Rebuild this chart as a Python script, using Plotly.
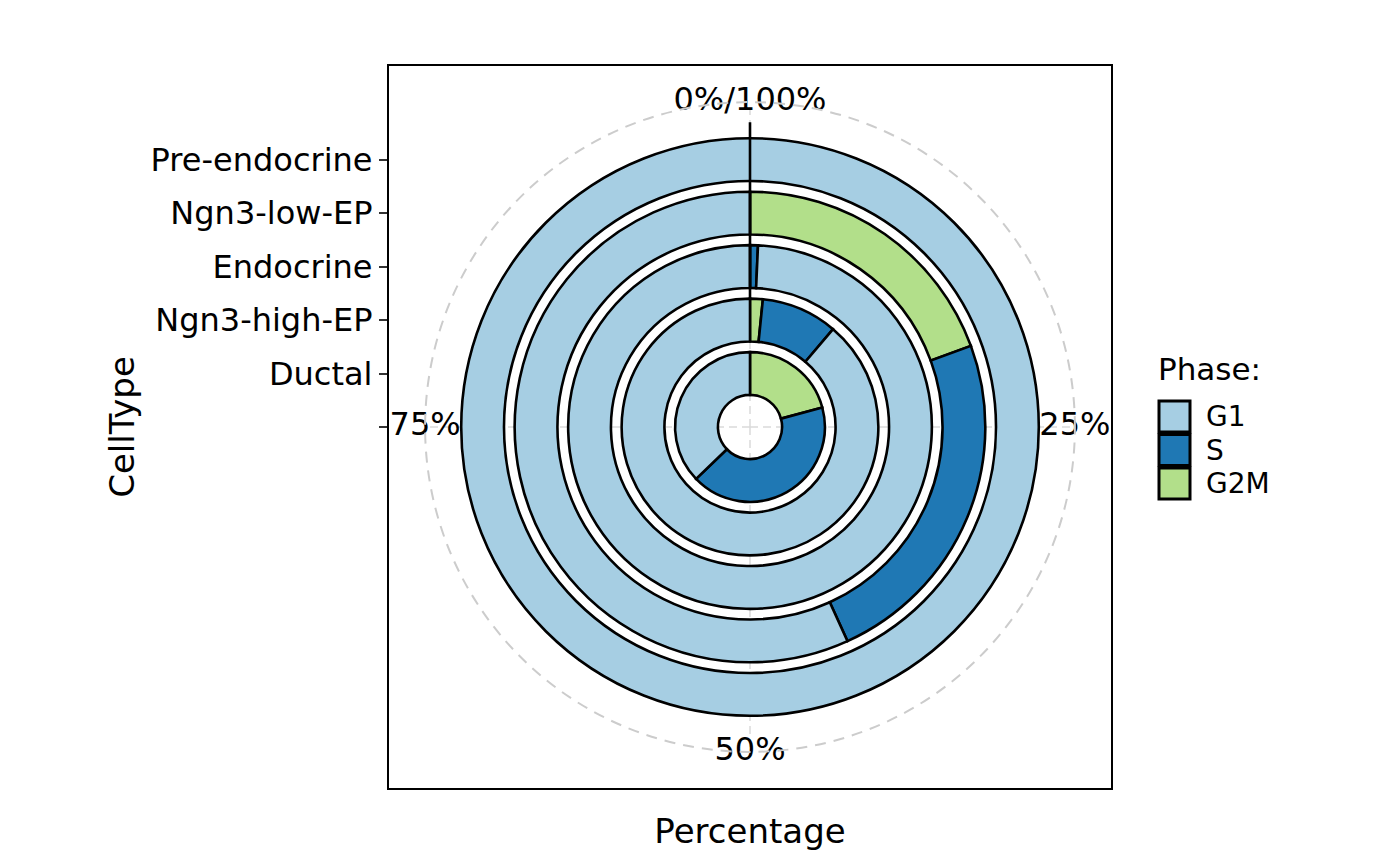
import numpy as np
import plotly.graph_objects as go

# ---------------- data ----------------
cell_types = ["Ductal", "Ngn3-high-EP", "Endocrine", "Ngn3-low-EP", "Pre-endocrine"]
phases = ["G1", "S", "G2M"]
pct_g1 = [37.2, 88.8, 99.3, 56.8, 100.0]
pct_s = [42.0, 9.6, 0.7, 23.8, 0.0]
pct_g2m = [20.8, 1.6, 0.0, 19.4, 0.0]
phase_colors = {"G1": "#A6CEE3", "S": "#1F78B4", "G2M": "#B2DF8A"}
theta_tick_vals = [0, 25, 50, 75]
theta_tick_text = ["0%/100%", "25%", "50%", "75%"]
radial_tick_text = [""] + cell_types

# ---------------- geometry constants ----------------
BAR_WIDTH = 0.8
R_GRID = 6.075     # outer (dashed) circle, in radial units
R_MAX = 6.75       # half of the panel in radial units
FONT = "DejaVu Sans"

OFF = 8            # page offset of the figure (body margin)
W, H = 1400, 866
ML, MT = 381, 58
PW = PH = 722
MR = W - ML - PW
MB = H - MT - PH


def px_x(px):
    return (px - OFF - ML) / PW


def px_y(py):
    return (H - MB - (py - OFF)) / PH


fig = go.Figure()

# theta grid lines (cartesian layer, beneath the polar bars)
for t in theta_tick_vals:
    a = np.deg2rad(t * 3.6)
    fig.add_trace(go.Scatter(
        x=[0, R_GRID * np.sin(a)], y=[0, R_GRID * np.cos(a)],
        mode="lines", line=dict(color="#DADADA", width=1.5, dash="8px,5px"),
        showlegend=False, hoverinfo="skip"))

# theta labels
ang = np.deg2rad(np.array(theta_tick_vals) * 3.6)
fig.add_trace(go.Scatter(
    x=R_GRID * np.sin(ang), y=R_GRID * np.cos(ang),
    mode="text", text=theta_tick_text, textposition="middle center",
    textfont=dict(family=FONT, size=32, color="#000000"),
    showlegend=False, hoverinfo="skip"))

# stacked ring segments, clockwise from top: G2M, S, G1
stack = [("G2M", pct_g2m), ("S", pct_s), ("G1", pct_g1)]
cum = [0.0] * len(cell_types)
for name, vals in stack:
    th, wd, base, rr, cts = [], [], [], [], []
    for i, v in enumerate(vals):
        if v > 0:
            th.append((cum[i] + v / 2) * 3.6)
            wd.append(v * 3.6)
            base.append(i + 1 - BAR_WIDTH / 2)
            rr.append(BAR_WIDTH)
            cts.append(cell_types[i])
    cum = [c + v for c, v in zip(cum, vals)]
    fig.add_trace(go.Barpolar(
        theta=th, width=wd, base=base, r=rr, name=name,
        marker=dict(color=phase_colors[name], line=dict(color="black", width=2.6)),
        customdata=cts, showlegend=False))

# black radial line at 0%
fig.add_trace(go.Scatterpolar(
    r=[2.4, 5.7], theta=[0, 0], mode="lines",
    line=dict(color="black", width=2.6), showlegend=False, hoverinfo="skip"))

# ---------------- manual legend ----------------
shapes = []
annotations = []
key_rows = [(401, 432), (434.5, 465.5), (468, 499)]
for (y0, y1), ph in zip(key_rows, phases):
    shapes.append(dict(type="rect", xref="paper", yref="paper",
                       x0=px_x(1159), x1=px_x(1190), y0=px_y(y1), y1=px_y(y0),
                       fillcolor=phase_colors[ph], line=dict(color="black", width=3)))
    annotations.append(dict(text=ph, xref="paper", yref="paper",
                            x=px_x(1204), y=px_y((y0 + y1) / 2),
                            xanchor="left", yanchor="middle", showarrow=False,
                            font=dict(family=FONT, size=28, color="black")))
annotations.append(dict(text="Phase:", xref="paper", yref="paper",
                        x=px_x(1156), y=px_y(369), xanchor="left", yanchor="middle",
                        showarrow=False, font=dict(family=FONT, size=31, color="black")))

fig.update_layout(
    width=W, height=H,
    margin=dict(l=ML, r=MR, t=MT, b=MB),
    paper_bgcolor="white", plot_bgcolor="white",
    font=dict(family=FONT, color="black"),
    showlegend=False,
    xaxis=dict(range=[-R_MAX, R_MAX], showgrid=False, zeroline=False,
               showticklabels=False, ticks="", showline=True, mirror=True,
               linecolor="black", linewidth=2.2,
               title=dict(text="Percentage", font=dict(size=34), standoff=30)),
    yaxis=dict(range=[-R_MAX, R_MAX], showgrid=False, zeroline=False,
               tickmode="array", tickvals=list(range(len(radial_tick_text))),
               ticktext=radial_tick_text, ticks="outside", ticklen=8, tickwidth=2.2,
               tickcolor="#333333", tickfont=dict(size=32, color="black"),
               showline=True, mirror=True, linecolor="black", linewidth=2.2,
               title=dict(text="CellType", font=dict(size=34), standoff=6)),
    polar=dict(
        domain=dict(x=[0, 1], y=[0, 1]),
        bgcolor="rgba(0,0,0,0)",
        barmode="overlay",
        radialaxis=dict(range=[0, R_MAX], showline=False, showticklabels=False,
                        ticks="", tickmode="array", tickvals=[R_GRID],
                        showgrid=True, gridcolor="#CCCCCC", griddash="11px,8px",
                        gridwidth=1.8),
        angularaxis=dict(rotation=90, direction="clockwise", showline=False,
                         showticklabels=False, ticks="", showgrid=False),
    ),
    shapes=shapes,
    annotations=annotations,
)

fig.write_html("out.html")
